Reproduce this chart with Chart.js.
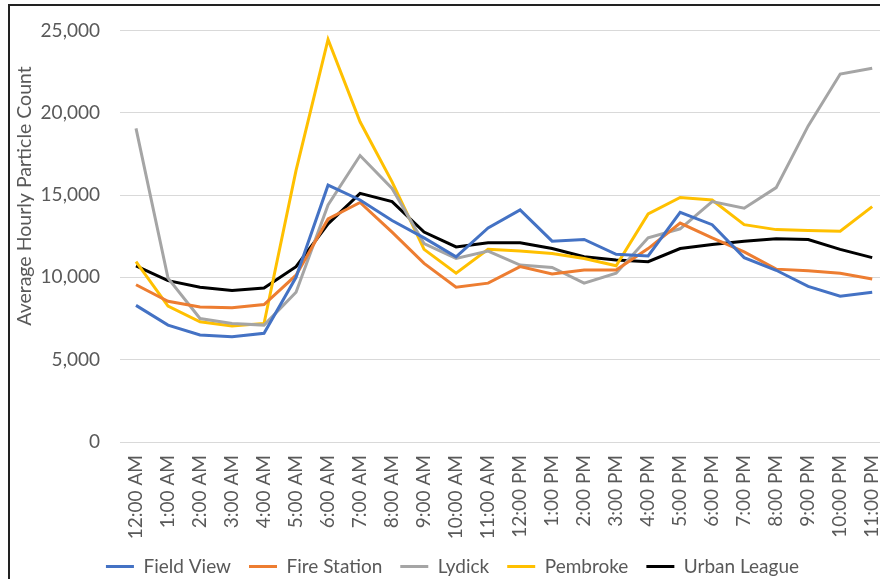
<!DOCTYPE html>
<html>
<head>
<meta charset="utf-8">
<script src="https://cdn.jsdelivr.net/npm/chart.js@4/dist/chart.umd.min.js"></script>
<style>
  html, body { margin:0; padding:0; background:#fff; overflow:hidden; width:880px; height:579px; }
  #frame { position:absolute; left:8px; top:4px; width:920px; height:620px; border:2px solid #222; }
  #wrap { position:absolute; left:10px; top:-1px; width:898px; height:597px; }
</style>
</head>
<body>
<div id="frame"></div>
<div id="wrap"><canvas id="chart"></canvas></div>
<script>
// ---- data ----
const hours = ['12:00 AM','1:00 AM','2:00 AM','3:00 AM','4:00 AM','5:00 AM','6:00 AM','7:00 AM',
  '8:00 AM','9:00 AM','10:00 AM','11:00 AM','12:00 PM','1:00 PM','2:00 PM','3:00 PM',
  '4:00 PM','5:00 PM','6:00 PM','7:00 PM','8:00 PM','9:00 PM','10:00 PM','11:00 PM'];

const fieldView   = [8300,7100,6500,6400,6600,10000,15600,14700,13450,12400,11250,13000,14100,12200,12300,11400,11300,13950,13200,11200,10430,9450,8850,9100];
const fireStation = [9550,8550,8200,8150,8350,10130,13550,14550,12750,10850,9400,9650,10650,10200,10450,10450,11750,13300,12400,11550,10500,10400,10250,9900];
const lydick      = [19050,9950,7500,7200,7100,9100,14400,17400,15400,12050,11150,11600,10750,10600,9650,10250,12400,12950,14600,14200,15450,19200,22350,22700];
const pembroke    = [10950,8250,7300,7050,7200,16500,24450,19450,15800,11700,10250,11700,11600,11450,11150,10700,13850,14850,14700,13200,12900,12850,12800,14300];
const urbanLeague = [10700,9800,9400,9200,9350,10650,13250,15100,14600,12750,11850,12100,12100,11750,11250,11050,10950,11750,12000,12200,12350,12300,11700,11200];

const yTicks = [0, 5000, 10000, 15000, 20000, 25000];
const yTitle = 'Average Hourly Particle Count';

const textColor = '#595959';
const gridColor = '#d9d9d9';
const fontFamily = 'Lato, "Open Sans", sans-serif';

function series(label, data, color){
  return {
    label, data,
    borderColor: color, backgroundColor: color,
    borderWidth: 3, pointRadius: 0, pointStyle: 'line',
    tension: 0, fill: false
  };
}

// y axis title drawn beside the plot, a bit above centre like the original
const yTitlePlugin = {
  id: 'yTitle',
  afterDraw(chart){
    const ctx = chart.ctx;
    ctx.save();
    ctx.font = '19.5px ' + fontFamily;
    ctx.fillStyle = textColor;
    ctx.textAlign = 'center';
    ctx.textBaseline = 'middle';
    ctx.translate(15, 197);
    ctx.rotate(-Math.PI/2);
    ctx.fillText(yTitle, 0, 0);
    ctx.restore();
  }
};

new Chart(document.getElementById('chart'), {
  type: 'line',
  data: {
    labels: hours,
    datasets: [
      series('Field View', fieldView, '#4472C4'),
      series('Fire Station', fireStation, '#ED7D31'),
      series('Lydick', lydick, '#A5A5A5'),
      series('Pembroke', pembroke, '#FFC000'),
      series('Urban League', urbanLeague, '#000000')
    ]
  },
  options: {
    responsive: true,
    maintainAspectRatio: false,
    animation: false,
    layout: { padding: { top: 8, bottom: 10, left: -13, right: 0 } },
    plugins: {
      tooltip: { enabled: false },
      legend: {
        position: 'bottom',
        labels: {
          usePointStyle: true,
          pointStyleWidth: 28,
          padding: 18,
          color: textColor,
          font: { family: fontFamily, size: 19 }
        }
      }
    },
    scales: {
      x: {
        offset: true,
        grid: { display: false, drawTicks: false },
        border: { display: true, color: gridColor, width: 1 },
        ticks: {
          autoSkip: false, minRotation: 90, maxRotation: 90, padding: 13,
          color: textColor, font: { family: fontFamily, size: 19 }
        },
        afterFit(scale){ scale.height = 97; }
      },
      y: {
        min: yTicks[0], max: yTicks[yTicks.length-1],
        afterBuildTicks(scale){ scale.ticks = yTicks.map(v => ({ value: v })); },
        grid: { color: gridColor, lineWidth: 1, drawTicks: false },
        border: { display: false },
        ticks: {
          padding: 20, color: textColor,
          font: { family: fontFamily, size: 19 },
          callback: v => v.toLocaleString('en-US')
        },
        afterFit(scale){ scale.width = 123; }
      }
    }
  },
  plugins: [yTitlePlugin]
});
</script>
</body>
</html>
